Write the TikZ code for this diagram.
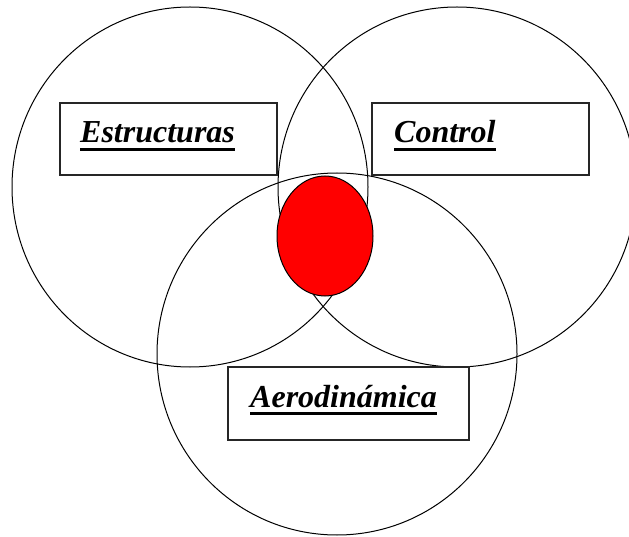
\documentclass[tikz,border=0pt]{standalone}
\usepackage{fontspec}
\setmainfont{Liberation Serif}
\usetikzlibrary{shapes.geometric}
\begin{document}
\begin{tikzpicture}[x=1pt,y=-1pt,
  ring/.style={draw=black, line width=1pt, ellipse, inner sep=0pt},
  labelbox/.style={draw=black!85, line width=1.2pt, fill=white, rectangle, inner sep=0pt},
  lbl/.style={anchor=base west, inner sep=0pt, font=\fontsize{32}{38}\selectfont\bfseries\itshape},
  uline/.style={line width=3pt}]
\useasboundingbox (0,0) rectangle (629,537);
\fill[white] (0,0) rectangle (629,537);
% circles
\node[ring, minimum width=356pt, minimum height=360pt] (cest) at (190,187) {};
\node[ring, minimum width=358pt, minimum height=360pt] (ccon) at (457,187) {};
\node[ring, minimum width=360pt, minimum height=362pt] (caer) at (337,354) {};
% red core
\node[draw=black, line width=1pt, fill=red, ellipse, inner sep=0pt,
      minimum width=96pt, minimum height=120pt] (core) at (325,236) {};
% boxes
\node[labelbox, minimum width=217pt, minimum height=72pt] (best) at (168.5,139) {};
\node[labelbox, minimum width=217pt, minimum height=72pt] (bcon) at (480.5,139) {};
\node[labelbox, minimum width=241pt, minimum height=73pt] (baer) at (348.5,403.5) {};
% labels
\node[lbl] (test) at (80,143) {Estructuras};
\node[lbl] (tcon) at (394,143) {Control};
\node[lbl] (taer) at (250,407) {Aerodinámica};
\draw[uline] ([yshift=-7pt]test.base west) -- ([yshift=-7pt]test.base east);
\draw[uline] ([yshift=-7pt]tcon.base west) -- ([yshift=-7pt]tcon.base east);
\draw[uline] ([yshift=-6.5pt]taer.base west) -- ([yshift=-6.5pt]taer.base east);
\end{tikzpicture}
\end{document}
